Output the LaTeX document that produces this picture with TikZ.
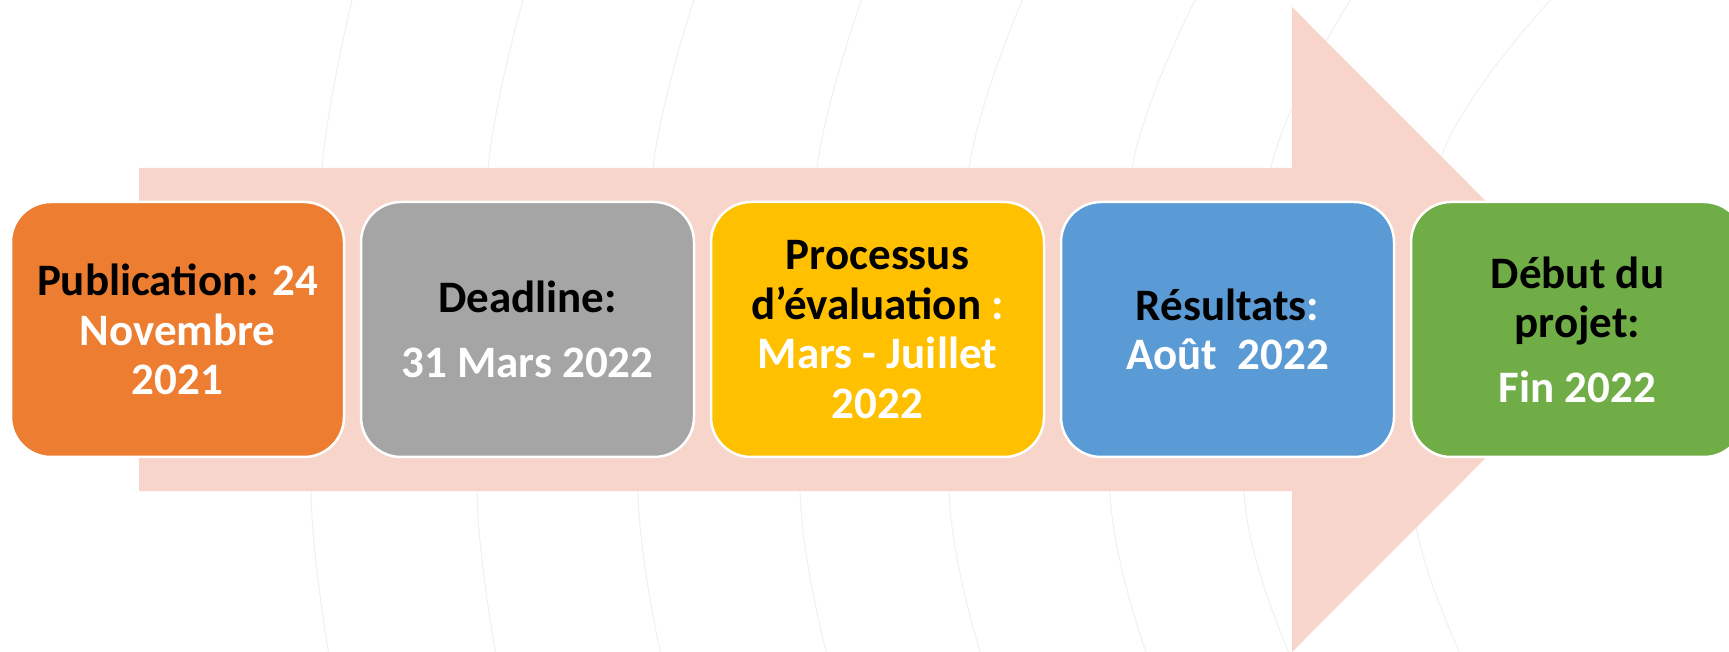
\documentclass[tikz,border=0pt]{standalone}
\usepackage{fontspec}
\setmainfont{Carlito}
\usetikzlibrary{positioning}

\definecolor{arrowpink}{HTML}{F7D5CB}
\definecolor{stageorange}{HTML}{ED7D31}
\definecolor{stagegray}{HTML}{A5A5A5}
\definecolor{stageyellow}{HTML}{FFC000}
\definecolor{stageblue}{HTML}{5B9BD5}
\definecolor{stagegreen}{HTML}{70AD47}

\newcommand{\stagelabel}[1]{\textcolor{black}{#1}}

\tikzset{
    stagebox/.style={draw=white, line width=2.5pt, rounded corners=40pt,
        minimum width=333pt, minimum height=255pt, inner sep=0pt, outer sep=0pt},
    stagetext/.style={align=center, text=white, inner sep=0pt,
        font=\bfseries\fontsize{45}{49.5}\selectfont},
    bgarc/.style={draw=black!6, line width=1pt},
}

\begin{document}
\begin{tikzpicture}[x=1pt,y=1pt,node distance=17pt]
        \def\midy{321.5}% middle line of the arrow
        \def\headx{1292}% where the arrow head starts
        \useasboundingbox (0,0) rectangle (1729,651);
        % the faint arcs of the background
        \foreach \xa/\xb/\xc/\xd in {353/322/311/329, 524/488/477/496, 695/653/638/661,
            863/817/800/827, 1024/969/949/981, 1197/1132/1110/1147,
            1353/1271/1244/1290, 1554/1437/1411/1461}
            \draw[bgarc] plot[smooth] coordinates {(\xa,655) (\xb,483) (\xc,160) (\xd,-4)};
        % the big arrow behind the stages
        \fill[arrowpink] (139,483) -- (\headx,483) -- (\headx,644) -- (1614,\midy)
            -- (\headx,-1) -- (\headx,160) -- (139,160) -- cycle;
        % the stages, left to right
        \node[stagebox, fill=stageorange] (publication) at (177.5,\midy) {};
        \node[stagebox, fill=stagegray, right=of publication] (deadline) {};
        \node[stagebox, fill=stageyellow, right=of deadline] (evaluation) {};
        \node[stagebox, fill=stageblue, right=of evaluation] (resultats) {};
        \node[stagebox, fill=stagegreen, right=of resultats] (debut) {};
        % the texts in the stages
        \node[stagetext] (publication-text) at (publication)
            {\stagelabel{Publication:} 24\\ Novembre\\ 2021};
        \node[stagetext] (deadline-text) at (deadline)
            {\stagelabel{Deadline:}\\[15pt] 31 Mars 2022};
        \node[stagetext] (evaluation-text) at (evaluation)
            {\stagelabel{Processus}\\ \stagelabel{d’évaluation} :\\ Mars - Juillet\\ 2022};
        \node[stagetext] (resultats-text) at (resultats)
            {\stagelabel{Résultats}:\\ Août~~2022};
        \node[stagetext] (debut-text) at (debut)
            {\stagelabel{Début du}\\ \stagelabel{projet:}\\[15pt] Fin 2022};
\end{tikzpicture}
\end{document}
